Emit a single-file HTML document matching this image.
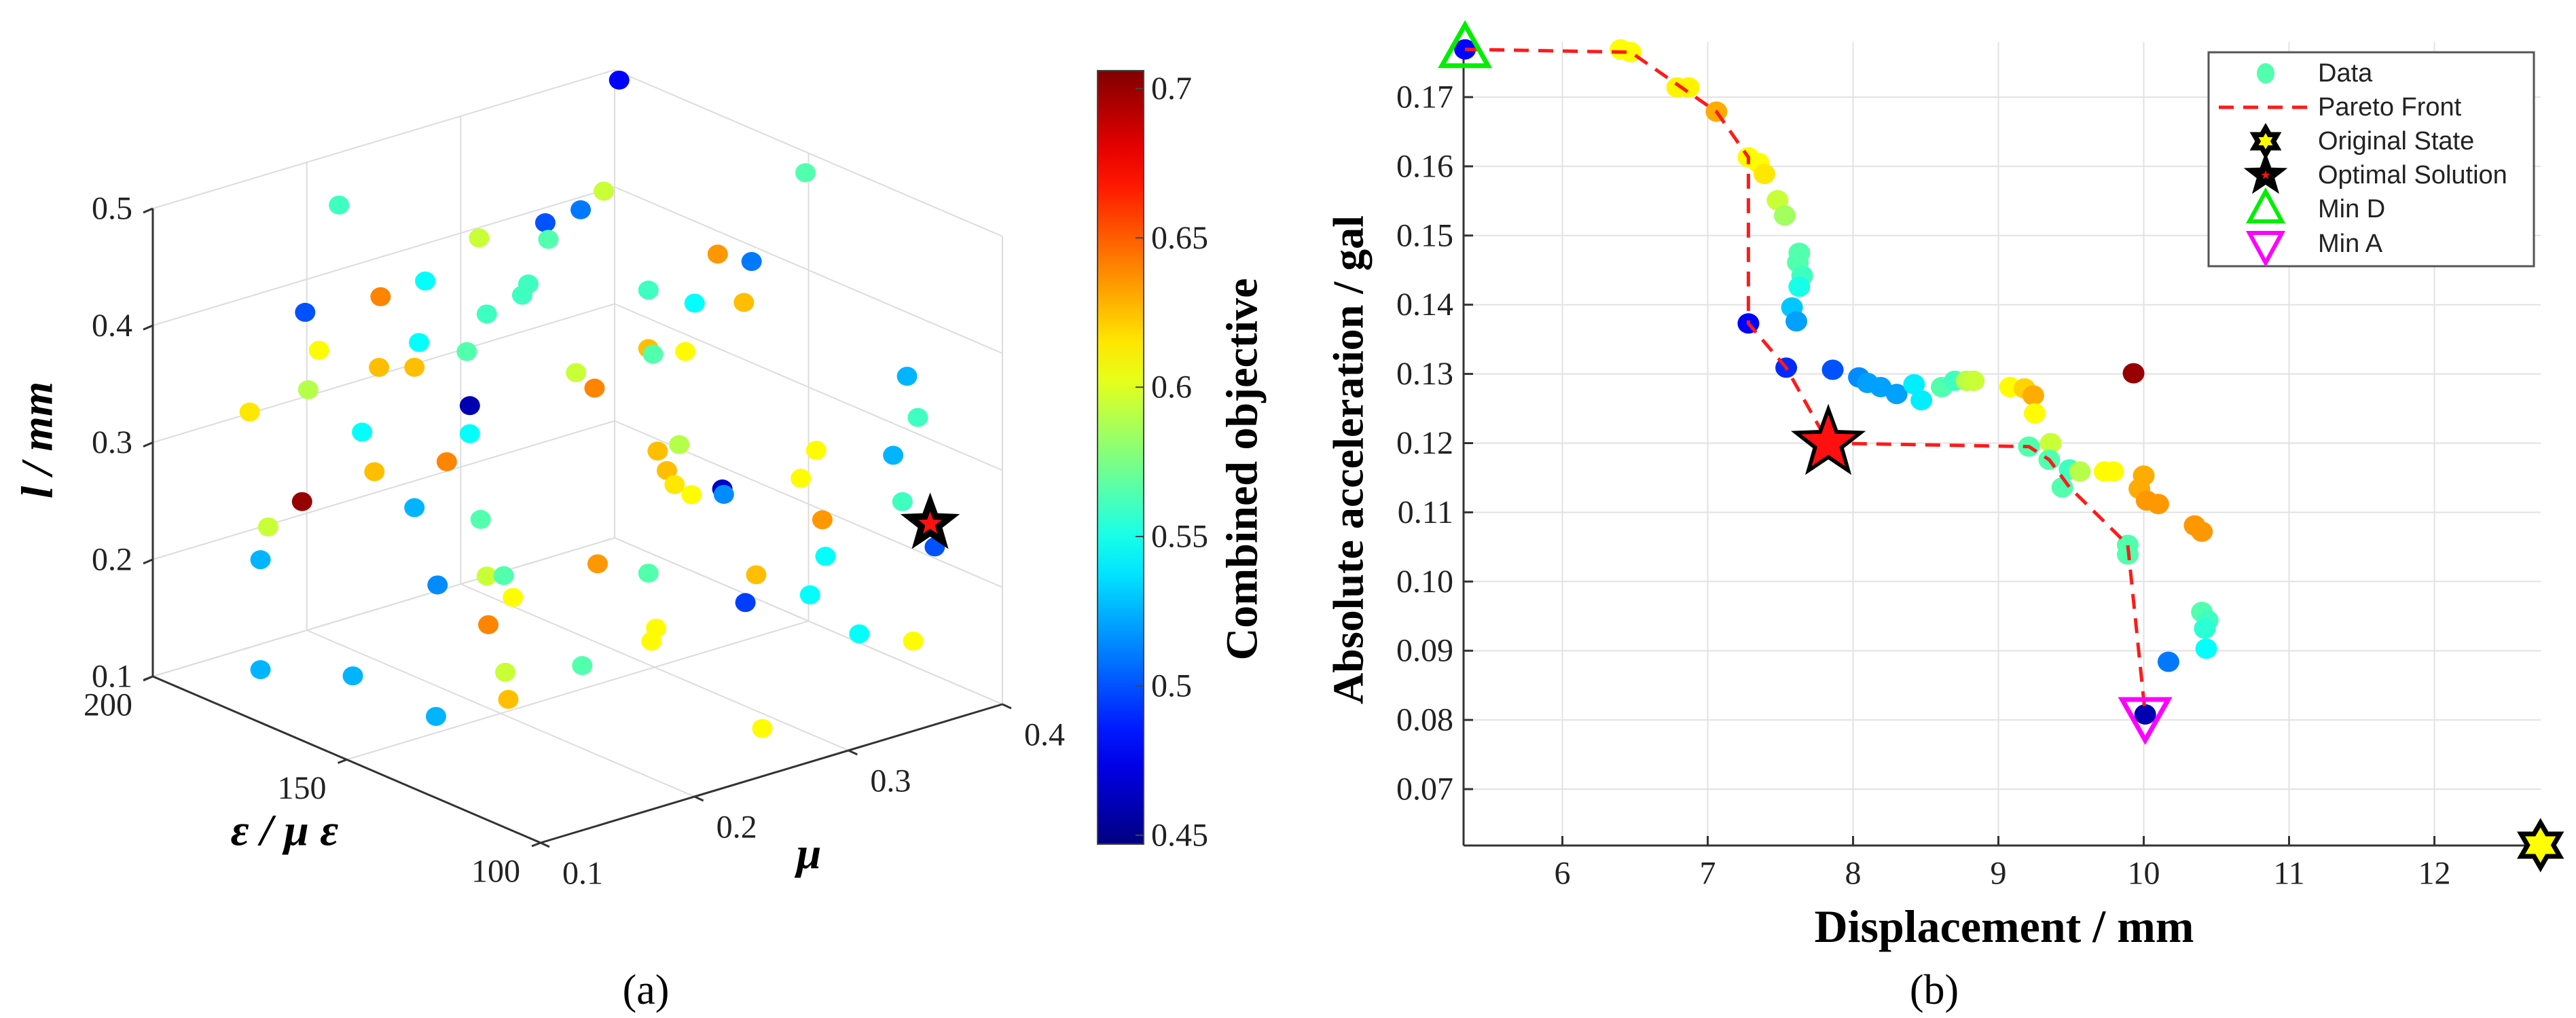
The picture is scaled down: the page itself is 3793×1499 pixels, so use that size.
<!DOCTYPE html>
<html><head><meta charset="utf-8"><style>
html,body{margin:0;padding:0;background:#fff;}
svg{display:block;}
</style></head><body>
<svg id="fig" width="3793" height="1499" viewBox="0 0 3793 1499" xmlns="http://www.w3.org/2000/svg">
<g id="left"></g>
<g id="cbar"></g>
<g id="right"></g>
<text x="951" y="1478" font-family="Liberation Serif, serif" font-size="62" text-anchor="middle">(a)</text>
<text x="2848" y="1478" font-family="Liberation Serif, serif" font-size="62" text-anchor="middle">(b)</text>
</svg>
<script>
// ---------- 3D scatter data ----------
const muVals=[0.277,0.398,0.095,0.267,0.252,0.229,0.231,0.186,0.341,0.363,0.151,0.122,0.218,0.214,0.296,0.326,0.358,0.073,0.191,0.147,0.082,0.178,0.296,0.299,0.320,0.121,0.144,0.464,0.249,0.261,0.075,0.037,0.180,0.471,0.110,0.180,0.316,0.302,0.405,0.455,0.165,0.118,0.308,0.313,0.324,0.344,0.345,0.395,0.071,0.461,0.049,0.144,0.187,0.409,0.482,0.044,0.411,0.263,0.296,0.366,0.191,0.202,0.159,0.208,0.359,0.401,0.301,0.298,0.192,0.433,0.468,0.044,0.104,0.203,0.253,0.205,0.158,0.370];
const epsVals=muVals.map(()=>150);
const lVals=[0.611,0.484,0.576,0.520,0.510,0.508,0.493,0.512,0.437,0.422,0.489,0.487,0.460,0.452,0.424,0.401,0.389,0.493,0.445,0.438,0.457,0.418,0.374,0.368,0.362,0.427,0.418,0.284,0.372,0.354,0.426,0.422,0.371,0.246,0.376,0.347,0.284,0.284,0.244,0.220,0.329,0.339,0.265,0.251,0.238,0.235,0.230,0.224,0.332,0.178,0.319,0.298,0.271,0.183,0.131,0.293,0.151,0.203,0.182,0.153,0.221,0.217,0.226,0.196,0.132,0.122,0.133,0.123,0.179,0.076,0.056,0.199,0.170,0.134,0.120,0.110,0.114,0.020];
const objVals=[0.48,0.565,0.56,0.595,0.51,0.50,0.565,0.595,0.635,0.51,0.545,0.64,0.56,0.56,0.56,0.545,0.625,0.50,0.56,0.545,0.61,0.565,0.625,0.565,0.61,0.625,0.625,0.525,0.595,0.64,0.59,0.615,0.46,0.56,0.545,0.545,0.59,0.625,0.61,0.525,0.64,0.625,0.625,0.615,0.61,0.465,0.515,0.61,0.70,0.56,0.595,0.525,0.565,0.635,0.50,0.525,0.545,0.635,0.565,0.625,0.595,0.565,0.515,0.61,0.495,0.545,0.61,0.61,0.64,0.545,0.61,0.525,0.525,0.595,0.565,0.625,0.525,0.61];
const optimal3d=[0.479,150,0.152];
const muTicks=[0.1,0.2,0.3,0.4];
const epsTicks=[100,150,200];
const lTicks=[0.1,0.2,0.3,0.4,0.5];
const cbTicks=[0.45,0.5,0.55,0.6,0.65,0.7];
// ---------- Pareto chart data ----------
const dispVals=[5.33,6.40,6.47,6.79,6.87,7.06,7.28,7.35,7.39,7.48,7.53,7.63,7.62,7.65,7.63,7.58,7.61,7.28,7.54,7.86,8.04,8.10,8.19,8.30,8.42,8.47,8.61,8.70,8.78,8.83,9.08,9.18,9.24,9.25,9.21,9.36,9.35,9.49,9.56,9.44,9.73,9.79,10.00,9.97,10.02,10.10,10.35,10.40,9.89,9.89,9.93,10.40,10.44,10.42,10.43,10.17,10.01];
const accVals=[0.1769,0.1769,0.1765,0.1714,0.1714,0.1679,0.1613,0.1605,0.1589,0.1551,0.1529,0.1475,0.1461,0.1442,0.1426,0.1396,0.1376,0.1373,0.1309,0.1306,0.1295,0.1287,0.1281,0.1271,0.1285,0.1262,0.1281,0.1290,0.1290,0.1290,0.1281,0.1279,0.1269,0.1243,0.1195,0.1200,0.1176,0.1162,0.1159,0.1136,0.1159,0.1159,0.1153,0.1134,0.1117,0.1112,0.1081,0.1072,0.1053,0.1039,0.1301,0.0956,0.0944,0.0932,0.0903,0.0884,0.0808];
const accObj=[0.48,0.61,0.61,0.612,0.612,0.63,0.61,0.61,0.615,0.595,0.585,0.565,0.565,0.56,0.55,0.53,0.52,0.48,0.49,0.50,0.515,0.52,0.52,0.52,0.54,0.54,0.565,0.56,0.59,0.595,0.61,0.62,0.63,0.61,0.565,0.595,0.565,0.56,0.59,0.565,0.61,0.61,0.63,0.63,0.635,0.635,0.635,0.635,0.565,0.565,0.70,0.565,0.56,0.555,0.545,0.51,0.46];
const paretoX=[5.33,6.47,7.06,7.28,7.28,7.54,7.83,9.21,9.35,9.49,9.89,10.01];
const paretoY=[0.1769,0.1765,0.1679,0.1613,0.1373,0.1309,0.1200,0.1195,0.1176,0.1136,0.1053,0.0808];
const optimalPt=[7.83,0.120];
const originalPt=[12.73,0.0619];
const minDPt=[5.33,0.1769];
const minAPt=[10.01,0.0808];
const xTicks=[6,7,8,9,10,11,12];
const yTicks=[0.07,0.08,0.09,0.10,0.11,0.12,0.13,0.14,0.15,0.16,0.17];
const yTickLabels=["0.07","0.08","0.09","0.10","0.11","0.12","0.13","0.14","0.15","0.16","0.17"];
const legendLabels=["Data","Pareto Front","Original State","Optimal Solution","Min D","Min A"];

const NS="http://www.w3.org/2000/svg";
const CMIN=0.447,CMAX=0.706;
function jet(v){const t=Math.max(0,Math.min(1,(v-CMIN)/(CMAX-CMIN)));
 const f=x=>Math.round(255*Math.max(0,Math.min(1,x)));
 return `rgb(${f(1.5-Math.abs(4*t-3))},${f(1.5-Math.abs(4*t-2))},${f(1.5-Math.abs(4*t-1))})`;}
function mk(parent,tag,attrs,text){const e=document.createElementNS(NS,tag);for(const k in attrs)e.setAttribute(k,attrs[k]);if(text!==undefined)e.textContent=text;parent.appendChild(e);return e;}
function starPath(cx,cy,R,r,n){let d="";for(let i=0;i<2*n;i++){const a=-Math.PI/2+i*Math.PI/n;const rr=i%2?r:R;d+=(i?"L":"M")+(cx+rr*Math.cos(a)).toFixed(1)+","+(cy+rr*Math.sin(a)).toFixed(1);}return d+"Z";}
function hexPath(cx,cy,R){const t=(s)=>{let d="";for(let i=0;i<3;i++){const a=s+i*2*Math.PI/3;d+=(i?"L":"M")+(cx+R*Math.cos(a)).toFixed(1)+","+(cy+R*Math.sin(a)).toFixed(1);}return d+"Z";};return t(-Math.PI/2)+t(Math.PI/2);}
const SERIF="Liberation Serif, serif",SANS="Liberation Sans, Arial, sans-serif";

// ---------- 3D panel ----------
const L=document.getElementById('left');
function P(mu,eps,l){return [796+(mu-0.1)/0.3*680+(eps-100)/100*(-571),1241+(mu-0.1)/0.3*(-204)+(eps-100)/100*(-245)-(l-0.1)/0.4*689];}
function line3(a,b,st,w,name){const p=P(...a),q=P(...b);const e=mk(L,'line',{x1:p[0],y1:p[1],x2:q[0],y2:q[1],stroke:st,'stroke-width':w});

}
const GC="#dcdcdc";
muTicks.forEach(m=>{line3([m,100,0.1],[m,200,0.1],GC,2,'floor-grid');line3([m,200,0.1],[m,200,0.5],GC,2,'wall-grid');});
epsTicks.forEach(e=>{line3([0.1,e,0.1],[0.4,e,0.1],GC,2,'floor-grid');line3([0.4,e,0.1],[0.4,e,0.5],GC,2,'wall-grid');});
lTicks.forEach(l=>{line3([0.1,200,l],[0.4,200,l],GC,2,'wall-grid');line3([0.4,100,l],[0.4,200,l],GC,2,'wall-grid');});
line3([0.1,200,0.1],[0.1,200,0.5],"#333",3,'l-axis');
line3([0.1,100,0.1],[0.1,200,0.1],"#333",3,'eps-axis');
line3([0.1,100,0.1],[0.4,100,0.1],"#333",3,'mu-axis');
lTicks.forEach(l=>{const p=P(0.1,200,l);
 const tk=mk(L,'line',{x1:p[0],y1:p[1],x2:p[0]-14,y2:p[1]+6,stroke:'#333','stroke-width':3});
 
 
 const t=mk(L,'text',{x:p[0]-30,y:p[1],'font-family':SERIF,'font-size':48,'text-anchor':'end','dominant-baseline':'central',fill:'#222'},l.toFixed(1));
 
 });
muTicks.forEach(m=>{const p=P(m,100,0.1);
 const tk=mk(L,'line',{x1:p[0],y1:p[1],x2:p[0]+13,y2:p[1]+6,stroke:'#333','stroke-width':3});
 
 
 const t=mk(L,'text',{x:p[0]+62,y:p[1]+45,'font-family':SERIF,'font-size':48,'text-anchor':'middle','dominant-baseline':'central',fill:'#222'},m.toFixed(1));
 
 });
epsTicks.forEach(e=>{const p=P(0.1,e,0.1);
 const tk=mk(L,'line',{x1:p[0],y1:p[1],x2:p[0]-13,y2:p[1]+5,stroke:'#333','stroke-width':3});
 
 
 const t=mk(L,'text',{x:p[0]-66,y:p[1]+42,'font-family':SERIF,'font-size':48,'text-anchor':'middle','dominant-baseline':'central',fill:'#222'},String(e));
 
 });
muVals.forEach((m,i)=>{const p=P(m,epsVals[i],lVals[i]);
 const c=mk(L,'ellipse',{cx:p[0],cy:p[1],rx:15,ry:14,fill:jet(objVals[i])});
 
 });
{const p=P(...optimal3d);
 const s=mk(L,'path',{d:starPath(p[0],p[1],46,19,5),fill:'#000'});
 
 
 const s2=mk(L,'path',{d:starPath(p[0],p[1],18,7.5,5),fill:'#ff1010'});
 
 }
{const t=mk(L,'text',{x:55,y:648,'font-family':SERIF,'font-size':66,'font-weight':'bold','font-style':'italic','text-anchor':'middle','dominant-baseline':'central',transform:'rotate(-90 55 648)'},'l / mm');
 
 
 const t2=mk(L,'text',{x:419,y:1223,'font-family':SERIF,'font-size':66,'font-weight':'bold','font-style':'italic','text-anchor':'middle','dominant-baseline':'central'},'ε / μ ε');
 
 
 const t3=mk(L,'text',{x:1191,y:1257,'font-family':SERIF,'font-size':66,'font-weight':'bold','font-style':'italic','text-anchor':'middle','dominant-baseline':'central'},'μ');
 
 }

// ---------- colorbar ----------
const C=document.getElementById('cbar');
{const defs=mk(C,'defs',{});const g=mk(defs,'linearGradient',{id:'jetg',x1:0,y1:1,x2:0,y2:0});
 for(let i=0;i<=20;i++){const v=CMIN+(CMAX-CMIN)*i/20;mk(g,'stop',{offset:(i/20),'stop-color':jet(v)});}
 const r=mk(C,'rect',{x:1616,y:104,width:68,height:1139,fill:'url(#jetg)',stroke:'#444','stroke-width':2});
 
 
 const cy=v=>1243-(v-CMIN)/(CMAX-CMIN)*1139;
 cbTicks.forEach(v=>{const y=cy(v);
  const tk=mk(C,'line',{x1:1672,y1:y,x2:1684,y2:y,stroke:'#444','stroke-width':2});
  
  
  const t=mk(C,'text',{x:1695,y:y,'font-family':SERIF,'font-size':48,'dominant-baseline':'central',fill:'#222'},String(v));
  
  });
 const t=mk(C,'text',{x:1829,y:691,'font-family':SERIF,'font-size':66,'font-weight':'bold','text-anchor':'middle','dominant-baseline':'central',transform:'rotate(-90 1829 691)'},'Combined objective');
 
 }

// ---------- Pareto panel ----------
const R=document.getElementById('right');
const X0=2155,X1=3741,Y0=62,Y1=1245;
const sx=v=>X0+(v-5.32)*214, sy=v=>143+(0.17-v)*10190;
xTicks.forEach(v=>{const x=sx(v);
 const g=mk(R,'line',{x1:x,y1:Y0,x2:x,y2:Y1,stroke:'#e2e2e2','stroke-width':2});
 
 
 const tk=mk(R,'line',{x1:x,y1:Y1,x2:x,y2:Y1-14,stroke:'#333','stroke-width':3});
 
 
 const t=mk(R,'text',{x:x,y:1286,'font-family':SERIF,'font-size':48,'text-anchor':'middle','dominant-baseline':'central',fill:'#222'},String(v));
 
 });
yTicks.forEach((v,i)=>{const y=sy(v);
 const g=mk(R,'line',{x1:X0,y1:y,x2:X1,y2:y,stroke:'#e2e2e2','stroke-width':2});
 
 
 const tk=mk(R,'line',{x1:X0,y1:y,x2:X0+14,y2:y,stroke:'#333','stroke-width':3});
 
 
 const t=mk(R,'text',{x:2140,y:y,'font-family':SERIF,'font-size':48,'text-anchor':'end','dominant-baseline':'central',fill:'#222'},yTickLabels[i]);
 
 });
{const a=mk(R,'line',{x1:X0,y1:Y0,x2:X0,y2:Y1,stroke:'#333','stroke-width':3});
 
 
 const b=mk(R,'line',{x1:X0,y1:Y1,x2:X1,y2:Y1,stroke:'#333','stroke-width':3});
 
 }
dispVals.forEach((d,i)=>{const c=mk(R,'ellipse',{cx:sx(d),cy:sy(accVals[i]),rx:16,ry:15,fill:jet(accObj[i])});
 
 });
{const pts=paretoX.map((x,i)=>sx(x).toFixed(1)+","+sy(paretoY[i]).toFixed(1)).join(" ");
 const pl=mk(R,'polyline',{points:pts,fill:'none',stroke:'#ff1a1a','stroke-width':5,'stroke-dasharray':'22 14'});
 
 }
{const x=sx(optimalPt[0]),y=sy(optimalPt[1]);
 const s=mk(R,'path',{d:starPath(x,y,58,24,5),fill:'#000'});
 
 
 const s2=mk(R,'path',{d:starPath(x,y,42,17,5),fill:'#ff1010'});
 
 }
{const x=sx(originalPt[0]),y=sy(originalPt[1]);
 const h=mk(R,'path',{d:hexPath(x,y,40),fill:'#000'});
 
 
 const h2=mk(R,'path',{d:hexPath(x,y,26),fill:'#ffff00'});
 
 }
{const x=sx(minDPt[0]),y=sy(minDPt[1]);
 const t=mk(R,'path',{d:`M${x},${y-36}L${x+34},${y+24}L${x-34},${y+24}Z`,fill:'none',stroke:'#00ee00','stroke-width':7});
 
 
 const x2=sx(minAPt[0]),y2=sy(minAPt[1]);
 const t2=mk(R,'path',{d:`M${x2},${y2+38}L${x2+34},${y2-22}L${x2-34},${y2-22}Z`,fill:'none',stroke:'#ff00ff','stroke-width':7});
 
 }
{const t=mk(R,'text',{x:2951,y:1364,'font-family':SERIF,'font-size':68,'font-weight':'bold','text-anchor':'middle','dominant-baseline':'central'},'Displacement / mm');
 
 
 const t2=mk(R,'text',{x:1985,y:677,'font-family':SERIF,'font-size':64,'font-weight':'bold','text-anchor':'middle','dominant-baseline':'central',transform:'rotate(-90 1985 677)'},'Absolute acceleration  / gal');
 
 }
// legend
{const lg=mk(R,'g',{});
 
 
 const box=mk(lg,'rect',{x:3252,y:77,width:479,height:315,fill:'#fff',stroke:'#555','stroke-width':3});
 
 
 const ys=[108,158,208,258,308,359],mx=3336;
 legendLabels.forEach((lab,i)=>{const t=mk(lg,'text',{x:3413,y:ys[i],'font-family':SANS,'font-size':38,'dominant-baseline':'central',fill:'#222'},lab);
  
  });
 const d=mk(lg,'ellipse',{cx:mx,cy:ys[0],rx:13,ry:15,fill:jet(0.565)});
 
 
 const pl=mk(lg,'line',{x1:3267,y1:ys[1],x2:3407,y2:ys[1],stroke:'#ff1a1a','stroke-width':5,'stroke-dasharray':'22 14'});
 
 
 const h=mk(lg,'path',{d:hexPath(mx,ys[2],27),fill:'#000'});
 
 
 const h2=mk(lg,'path',{d:hexPath(mx,ys[2],12),fill:'#ffff00'});
 
 
 const s=mk(lg,'path',{d:starPath(mx,ys[3],34,14,5),fill:'#000'});
 
 
 const s2=mk(lg,'path',{d:starPath(mx,ys[3],7,3,5),fill:'#ff1010'});
 
 
 const y4=ys[4];
 const tr=mk(lg,'path',{d:`M${mx},${y4-26}L${mx+24},${y4+18}L${mx-24},${y4+18}Z`,fill:'none',stroke:'#00ee00','stroke-width':6});
 
 
 const y5=ys[5];
 const tr2=mk(lg,'path',{d:`M${mx},${y5+28}L${mx+24},${y5-16}L${mx-24},${y5-16}Z`,fill:'none',stroke:'#ff00ff','stroke-width':6});
 
 }
</script>
</body></html>
